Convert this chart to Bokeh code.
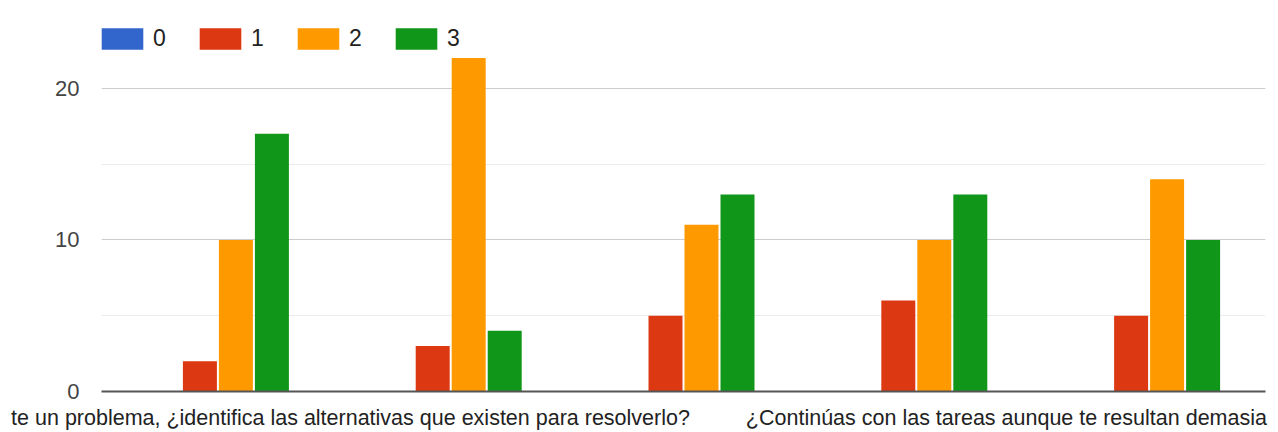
from bokeh.plotting import figure
from bokeh.models import ColumnDataSource, Range1d, FixedTicker, Legend, LegendItem
from bokeh.transform import dodge
from bokeh.embed import file_html
from bokeh.resources import INLINE

# ---- data ----
category_index = [0, 1, 2, 3, 4]
series_names = ["0", "1", "2", "3"]
values_0 = [0, 0, 0, 0, 0]
values_1 = [2, 3, 5, 6, 5]
values_2 = [10, 22, 11, 10, 14]
values_3 = [17, 4, 13, 13, 10]
series_colors = ["#3366CC", "#DC3912", "#FF9900", "#109618"]
x_label_texts = [
    "te un problema, ¿identifica las alternativas que existen para resolverlo?",
    "¿Continúas con las tareas aunque te resultan demasia",
]
y_tick_values = [0, 10, 20]
y_minor_values = [5, 15, 25]

# ---- layout constants ----
x_label_positions = [0.5696, 3.387]
bar_width = 0.146
bar_offsets = [-0.232, -0.0773, 0.0773, 0.232]
FONT = "Liberation Sans"

p = figure(width=1278, height=432, x_range=Range1d(-0.5, 4.5), y_range=Range1d(0, 25),
           output_backend="svg", toolbar_location=None,
           min_border_left=101, min_border_right=13, min_border_top=12, min_border_bottom=41)
p.outline_line_color = None
p.background_fill_color = "white"

source = ColumnDataSource(dict(x=category_index, s0=values_0, s1=values_1, s2=values_2, s3=values_3))

renderers = []
for i, col in enumerate(["s0", "s1", "s2", "s3"]):
    r = p.vbar(x=dodge("x", bar_offsets[i], range=p.x_range), top=col, width=bar_width,
               source=source, fill_color=series_colors[i], line_color=None)
    renderers.append(r)

# y axis / grid
yt = FixedTicker(ticks=y_tick_values, minor_ticks=y_minor_values)
p.yaxis.ticker = yt
p.ygrid.ticker = yt
p.ygrid.grid_line_color = "#cccccc"
p.ygrid.minor_grid_line_color = "#ebebeb"
p.xgrid.grid_line_color = None
p.yaxis.axis_line_color = None
p.yaxis.major_tick_line_color = None
p.yaxis.minor_tick_line_color = None
p.yaxis.major_label_standoff = 16
p.yaxis.major_label_text_font = FONT
p.yaxis.major_label_text_font_size = "22px"
p.yaxis.major_label_text_color = "#444444"

# x axis
p.xaxis.ticker = FixedTicker(ticks=x_label_positions)
p.xaxis.major_label_overrides = {x_label_positions[i]: x_label_texts[i] for i in range(len(x_label_texts))}
p.xaxis.axis_line_color = "#555555"
p.xaxis.axis_line_width = 2
p.xaxis.major_tick_line_color = None
p.xaxis.minor_tick_line_color = None
p.xaxis.major_label_standoff = 8
p.xaxis.major_label_text_font = FONT
p.xaxis.major_label_text_font_size = "21.5px"
p.xaxis.major_label_text_color = "#222222"

legend = Legend(items=[LegendItem(label=series_names[i], renderers=[renderers[i]]) for i in range(4)],
                orientation="horizontal", location=(-5, 339), glyph_width=52, glyph_height=27,
                label_standoff=5, spacing=21, padding=0, margin=0,
                border_line_color=None, background_fill_alpha=0,
                label_text_font=FONT, label_text_font_size="23px", label_text_color="#222222")
p.add_layout(legend)

open("out.html", "w").write(file_html(p, INLINE))
